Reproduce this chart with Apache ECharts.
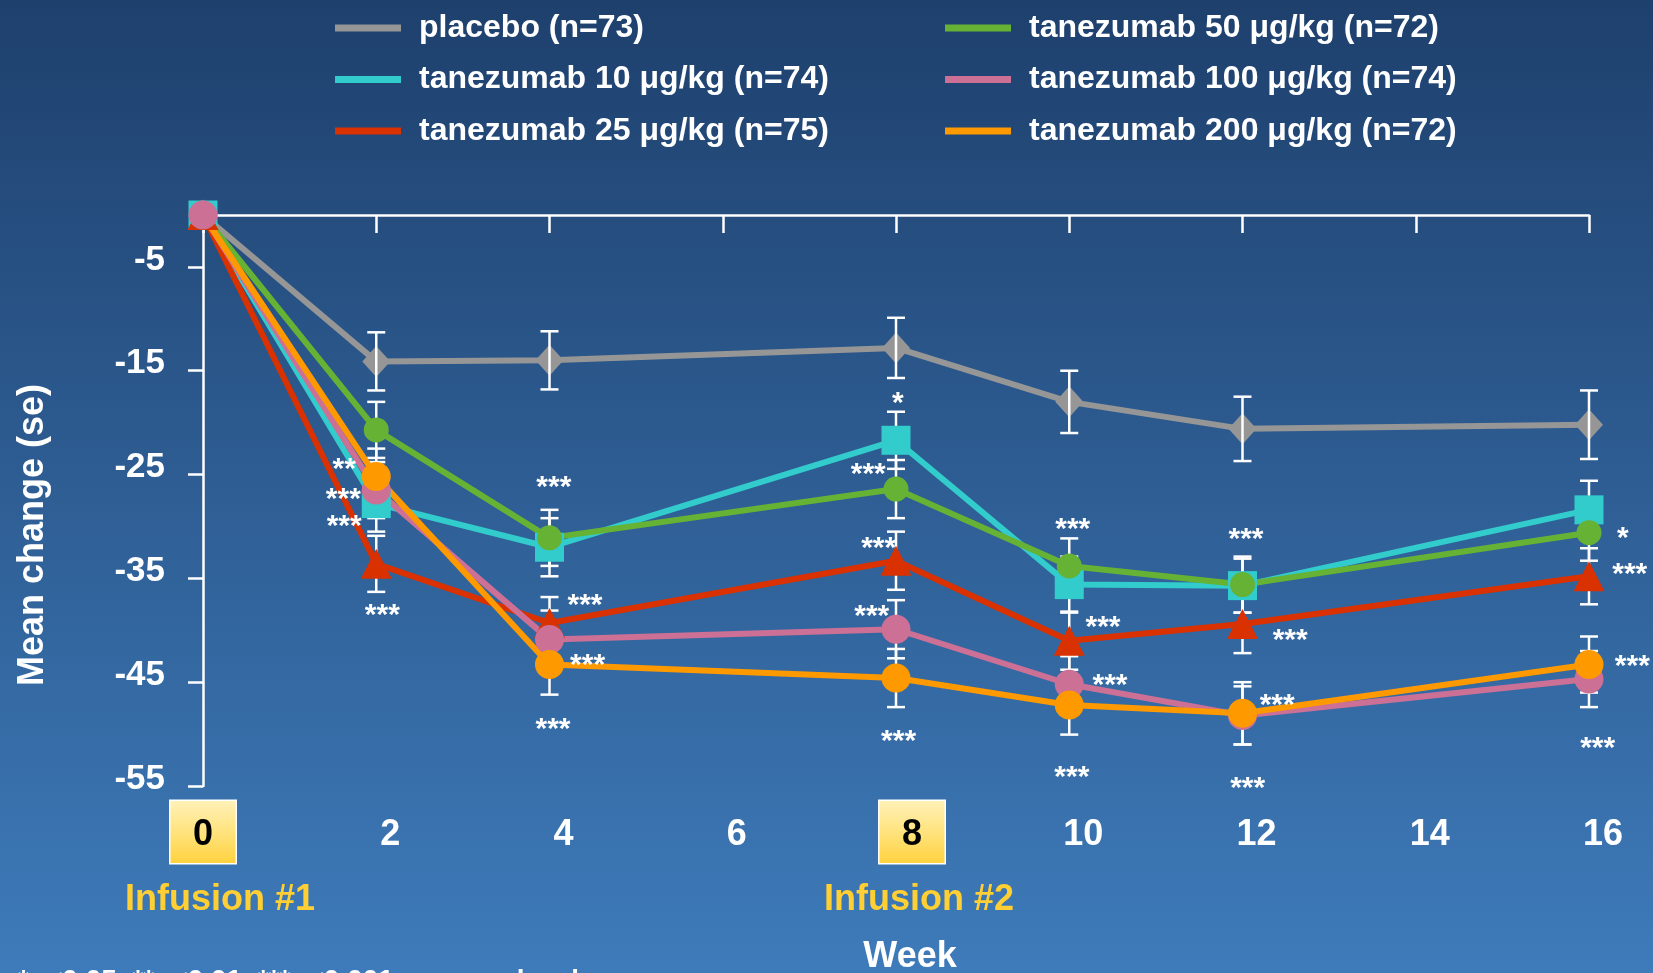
<!DOCTYPE html>
<html>
<head>
<meta charset="utf-8">
<script src="https://cdn.jsdelivr.net/npm/echarts@6/dist/echarts.min.js"></script>
<style>
html,body{margin:0;padding:0;}
#c{width:1653px;height:973px;}
</style>
</head>
<body>
<div id="c"></div>
<script>
// ---- data ----
const weeks = [0, 2, 4, 8, 10, 12, 16];
const seriesNames = [
  'placebo (n=73)',
  'tanezumab 10 \u03bcg/kg (n=74)',
  'tanezumab 25 \u03bcg/kg (n=75)',
  'tanezumab 50 \u03bcg/kg (n=72)',
  'tanezumab 100 \u03bcg/kg (n=74)',
  'tanezumab 200 \u03bcg/kg (n=72)'
];
const placebo = [0, -14.1, -14.0, -12.8, -18.0, -20.6, -20.2];
const t10     = [0, -27.8, -32.0, -21.7, -35.6, -35.7, -28.4];
const t25     = [0, -33.6, -39.3, -33.3, -41.0, -39.4, -34.8];
const t50     = [0, -20.7, -31.1, -26.4, -33.8, -35.6, -30.6];
const t100    = [0, -26.5, -40.9, -39.9, -45.2, -48.2, -44.7];
const t200    = [0, -25.2, -43.3, -44.6, -47.2, -48.0, -43.3];
const sePlacebo = [0, 2.8, 2.8, 2.9, 3.0, 3.1, 3.3];
const se10      = [0, 2.7, 2.8, 2.75, 2.7, 2.6, 2.8];
const se25      = [0, 2.7, 2.5, 2.8, 2.8, 2.8, 2.7];
const se50      = [0, 2.7, 2.7, 2.8, 2.65, 2.7, 2.7];
const se100     = [0, 2.7, 2.8, 2.8, 2.7, 2.8, 2.7];
const se200     = [0, 2.7, 2.9, 2.8, 2.85, 3.0, 2.7];
const yTicks = [-5, -15, -25, -35, -45, -55];
const xTickLabels = ['0', '2', '4', '6', '8', '10', '12', '14', '16'];
const infusionWeeks = [0, 8];
// significance annotations: [week, value, text]
const sigMarks = [
  [1.63, -23.9, '**'], [1.62, -26.8, '***'], [1.63, -29.4, '***'], [2.07, -37.9, '***'],
  [4.05, -25.6, '***'], [4.41, -37.0, '***'], [4.44, -42.7, '***'], [4.04, -48.9, '***'],
  [8.02, -17.5, '*'], [7.68, -24.3, '***'], [7.80, -31.5, '***'], [7.72, -38.0, '***'], [8.03, -50.1, '***'],
  [10.04, -29.6, '***'], [10.39, -39.1, '***'], [10.47, -44.7, '***'], [10.03, -53.5, '***'],
  [12.04, -30.6, '***'], [12.55, -40.3, '***'], [12.40, -46.6, '***'], [12.06, -54.6, '***'],
  [16.39, -30.5, '*'], [16.47, -34.0, '***'], [16.50, -42.8, '***'], [16.10, -50.7, '***']
];

// ---- styles ----
const FONT = '"Liberation Sans", Arial, sans-serif';
const colors = ['#969696', '#33CCCC', '#D93100', '#66B235', '#CC7095', '#FF9900'];
const symbols = ['diamond', 'rect', 'triangle', 'circle', 'circle', 'circle'];
const symbolSizes = [[28, 31], 29, [31, 30], 25, 29, 29];
const values = [placebo, t10, t25, t50, t100, t200];
const ses = [sePlacebo, se10, se25, se50, se100, se200];
const shadow = {textShadowColor: 'rgba(0,0,0,0.85)', textShadowOffsetX: 2, textShadowOffsetY: 2, textShadowBlur: 0};

const series = [];
values.forEach((vals, k) => {
  series.push({
    type: 'custom',
    name: seriesNames[k] + ' se',
    xAxisIndex: 0, yAxisIndex: 0,
    z: k === 0 ? 4 : 1,
    silent: true,
    encode: {x: 0, y: 1},
    data: weeks.map((w, i) => [w, vals[i], ses[k][i]]).filter(d => d[2] > 0),
    renderItem: function (params, api) {
      const x = api.value(0), y = api.value(1), e = api.value(2);
      const t = api.coord([x, y + e]);
      const b = api.coord([x, y - e]);
      const hw = 9;
      const st = {stroke: '#ffffff', lineWidth: 2.5};
      return {type: 'group', children: [
        {type: 'line', shape: {x1: t[0], y1: t[1], x2: b[0], y2: b[1]}, style: st},
        {type: 'line', shape: {x1: t[0] - hw, y1: t[1], x2: t[0] + hw, y2: t[1]}, style: st},
        {type: 'line', shape: {x1: b[0] - hw, y1: b[1], x2: b[0] + hw, y2: b[1]}, style: st}
      ]};
    }
  });
});
values.forEach((vals, k) => {
  series.push({
    type: 'line',
    name: seriesNames[k],
    xAxisIndex: 0, yAxisIndex: 0,
    z: 2,
    color: colors[k],
    symbol: symbols[k],
    symbolSize: symbolSizes[k],
    showAllSymbol: true,
    lineStyle: {width: 6, color: colors[k]},
    itemStyle: {color: colors[k], opacity: 1},
    emphasis: {disabled: true},
    data: weeks.map((w, i) => (k === 5 && i === 0) ? {value: [w, vals[i]], symbol: 'none'} : [w, vals[i]])
  });
});
series.push({
  type: 'custom',
  name: 'sig',
  xAxisIndex: 0, yAxisIndex: 0,
  z: 6, silent: true,
  encode: {x: 0, y: 1},
  data: sigMarks,
  renderItem: function (params, api) {
    const p = api.coord([api.value(0), api.value(1)]);
    return {type: 'text', x: p[0], y: p[1] + 7,
      style: {text: sigMarks[params.dataIndex][2], fill: '#ffffff', font: 'bold 30px ' + FONT, align: 'center', verticalAlign: 'middle'}};
  }
});

const legendText = Object.assign({color: '#ffffff', fontSize: 32, fontWeight: 'bold', fontFamily: FONT, lineHeight: 32, padding: [0, 0, 0, 13]}, shadow);

const chart = echarts.init(document.getElementById('c'), null, {renderer: 'canvas'});
chart.setOption({
  animation: false,
  backgroundColor: {type: 'linear', x: 0, y: 0, x2: 0, y2: 1, colorStops: [
    {offset: 0, color: '#1E406D'}, {offset: 1, color: '#3E7BBA'}]},
  textStyle: {fontFamily: FONT},
  grid: {left: 203, right: 64, top: 215, bottom: 187, containLabel: false},
  legend: [
    {data: seriesNames.slice(0, 3), left: 335, top: 12, orient: 'vertical', icon: 'rect', itemWidth: 66, itemHeight: 7, itemGap: 19.5, padding: 0, selectedMode: false, textStyle: legendText},
    {data: seriesNames.slice(3, 6), left: 945, top: 12, orient: 'vertical', icon: 'rect', itemWidth: 66, itemHeight: 7, itemGap: 19.5, padding: 0, selectedMode: false, textStyle: legendText}
  ],
  xAxis: [
    {type: 'value', position: 'top', min: 0, max: 16, interval: 2,
      axisLine: {show: true, onZero: false, lineStyle: {color: '#ffffff', width: 2.5}},
      axisTick: {show: true, inside: true, length: 18, lineStyle: {color: '#ffffff', width: 2.5}},
      axisLabel: {show: false}, splitLine: {show: false}},
    {type: 'value', position: 'bottom', min: 0, max: 16, interval: 2,
      axisLine: {show: false, onZero: false}, axisTick: {show: false}, splitLine: {show: false},
      axisLabel: Object.assign({show: true, margin: 15, color: '#ffffff', fontSize: 36, fontWeight: 'bold', fontFamily: FONT,
        formatter: function (v) {
          const s = xTickLabels[Math.round(v / 2)];
          if (infusionWeeks.indexOf(v) >= 0) return v === 0 ? '{s0|}{b|' + s + '}' : '{sp|}{b|' + s + '}';
          return '{s0|}{n|' + s + '}';
        },
        rich: {
          n: Object.assign({color: '#ffffff', fontSize: 36, fontWeight: 'bold', fontFamily: FONT, height: 56, lineHeight: 56, padding: [6, 0, 0, 28]}, shadow),
          s0: {width: 0, height: 62},
          sp: {width: 32, height: 62},
          b: {color: '#000000', fontSize: 36, fontWeight: 'bold', fontFamily: FONT, width: 65, height: 56, lineHeight: 56, align: 'center',
            padding: [6, 0, 0, 0],
            textShadowColor: 'transparent', textShadowOffsetX: 0, textShadowOffsetY: 0,
            borderColor: '#ffffff', borderWidth: 1.5,
            backgroundColor: {type: 'linear', x: 0, y: 0, x2: 0, y2: 1, colorStops: [
              {offset: 0, color: '#FFF2BA'}, {offset: 0.5, color: '#FFE37E'}, {offset: 1, color: '#FFD13C'}]}}
        }
      }, shadow)}
  ],
  yAxis: {type: 'value', min: -55, max: 0,
    axisLine: {show: true, onZero: false, lineStyle: {color: '#ffffff', width: 2.5}},
    axisTick: {show: true, inside: false, length: 15, customValues: yTicks, lineStyle: {color: '#ffffff', width: 2.5}},
    axisLabel: Object.assign({show: true, customValues: yTicks, margin: 38, color: '#ffffff', fontSize: 35, fontWeight: 'bold', fontFamily: FONT,
      verticalAlign: 'bottom', lineHeight: 14}, shadow),
    splitLine: {show: false}},
  graphic: [
    {type: 'text', x: 33, y: 535, rotation: Math.PI / 2,
      style: {text: 'Mean change (se)', fill: '#ffffff', font: 'bold 36px ' + FONT, align: 'center', verticalAlign: 'middle', shadowColor: 'rgba(0,0,0,0.85)', shadowOffsetX: -2, shadowOffsetY: 2}},
    {type: 'text', x: 220, y: 900,
      style: {text: 'Infusion #1', fill: '#FFCF33', font: 'bold 36px ' + FONT, align: 'center', verticalAlign: 'middle', shadowColor: 'rgba(0,0,0,0.85)', shadowOffsetX: 2, shadowOffsetY: 2}},
    {type: 'text', x: 919, y: 900,
      style: {text: 'Infusion #2', fill: '#FFCF33', font: 'bold 36px ' + FONT, align: 'center', verticalAlign: 'middle', shadowColor: 'rgba(0,0,0,0.85)', shadowOffsetX: 2, shadowOffsetY: 2}},
    {type: 'text', x: 910, y: 957,
      style: {text: 'Week', fill: '#ffffff', font: 'bold 36px ' + FONT, align: 'center', verticalAlign: 'middle', shadowColor: 'rgba(0,0,0,0.85)', shadowOffsetX: 2, shadowOffsetY: 2}},
    {type: 'text', x: 18, y: 967,
      style: {text: '*p<0.05, **p<0.01, ***p<0.001 versus placebo', fill: '#ffffff', font: 'bold 28px ' + FONT, align: 'left', verticalAlign: 'top'}}
  ],
  series: series
});
</script>
</body>
</html>
